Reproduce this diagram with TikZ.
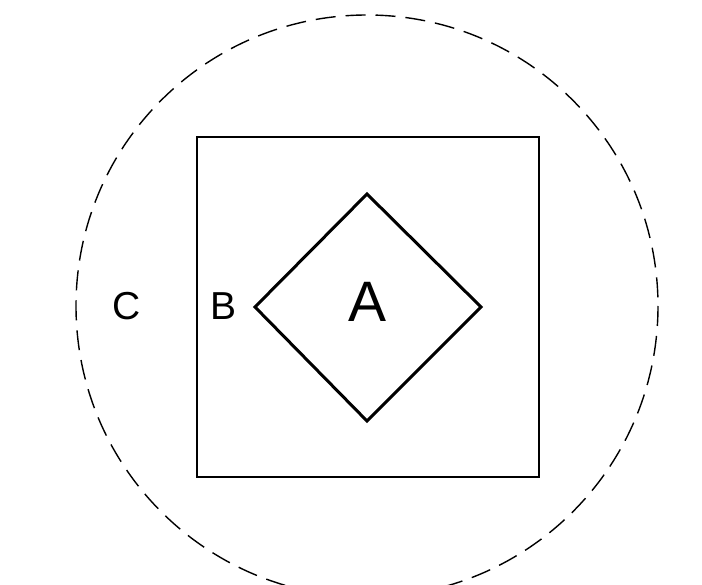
\documentclass[tikz,border=0pt]{standalone}
\usepackage{fontspec}
\setmainfont{Liberation Sans}
\usetikzlibrary{shapes.geometric}
\begin{document}
\begin{tikzpicture}[x=1pt,y=-1pt,
  outer/.style={draw, dash pattern=on 20pt off 10pt, line width=1.4pt},
  boxb/.style={draw, line width=2pt},
  diam/.style={draw, line width=3pt, line join=miter},
  lbl/.style={font=\fontsize{39}{39}\selectfont, inner sep=0pt},
  biglbl/.style={font=\fontsize{57}{57}\selectfont, inner sep=0pt}]
\useasboundingbox[fill=white] (0,0) rectangle (702,585);
\begin{scope}
\clip (0,0) rectangle (702,585);
\draw[outer] (367,306) circle (291);
\end{scope}
\draw[boxb] (197,137) rectangle (539,477);
\draw[diam] (367,194) -- (481,307) -- (367,421) -- (255,307) -- cycle;
\node[lbl] (C) at (127,306) {C};
\node[lbl] (B) at (224,306) {B};
\node[biglbl] (A) at (368,302) {A};
\end{tikzpicture}
\end{document}
